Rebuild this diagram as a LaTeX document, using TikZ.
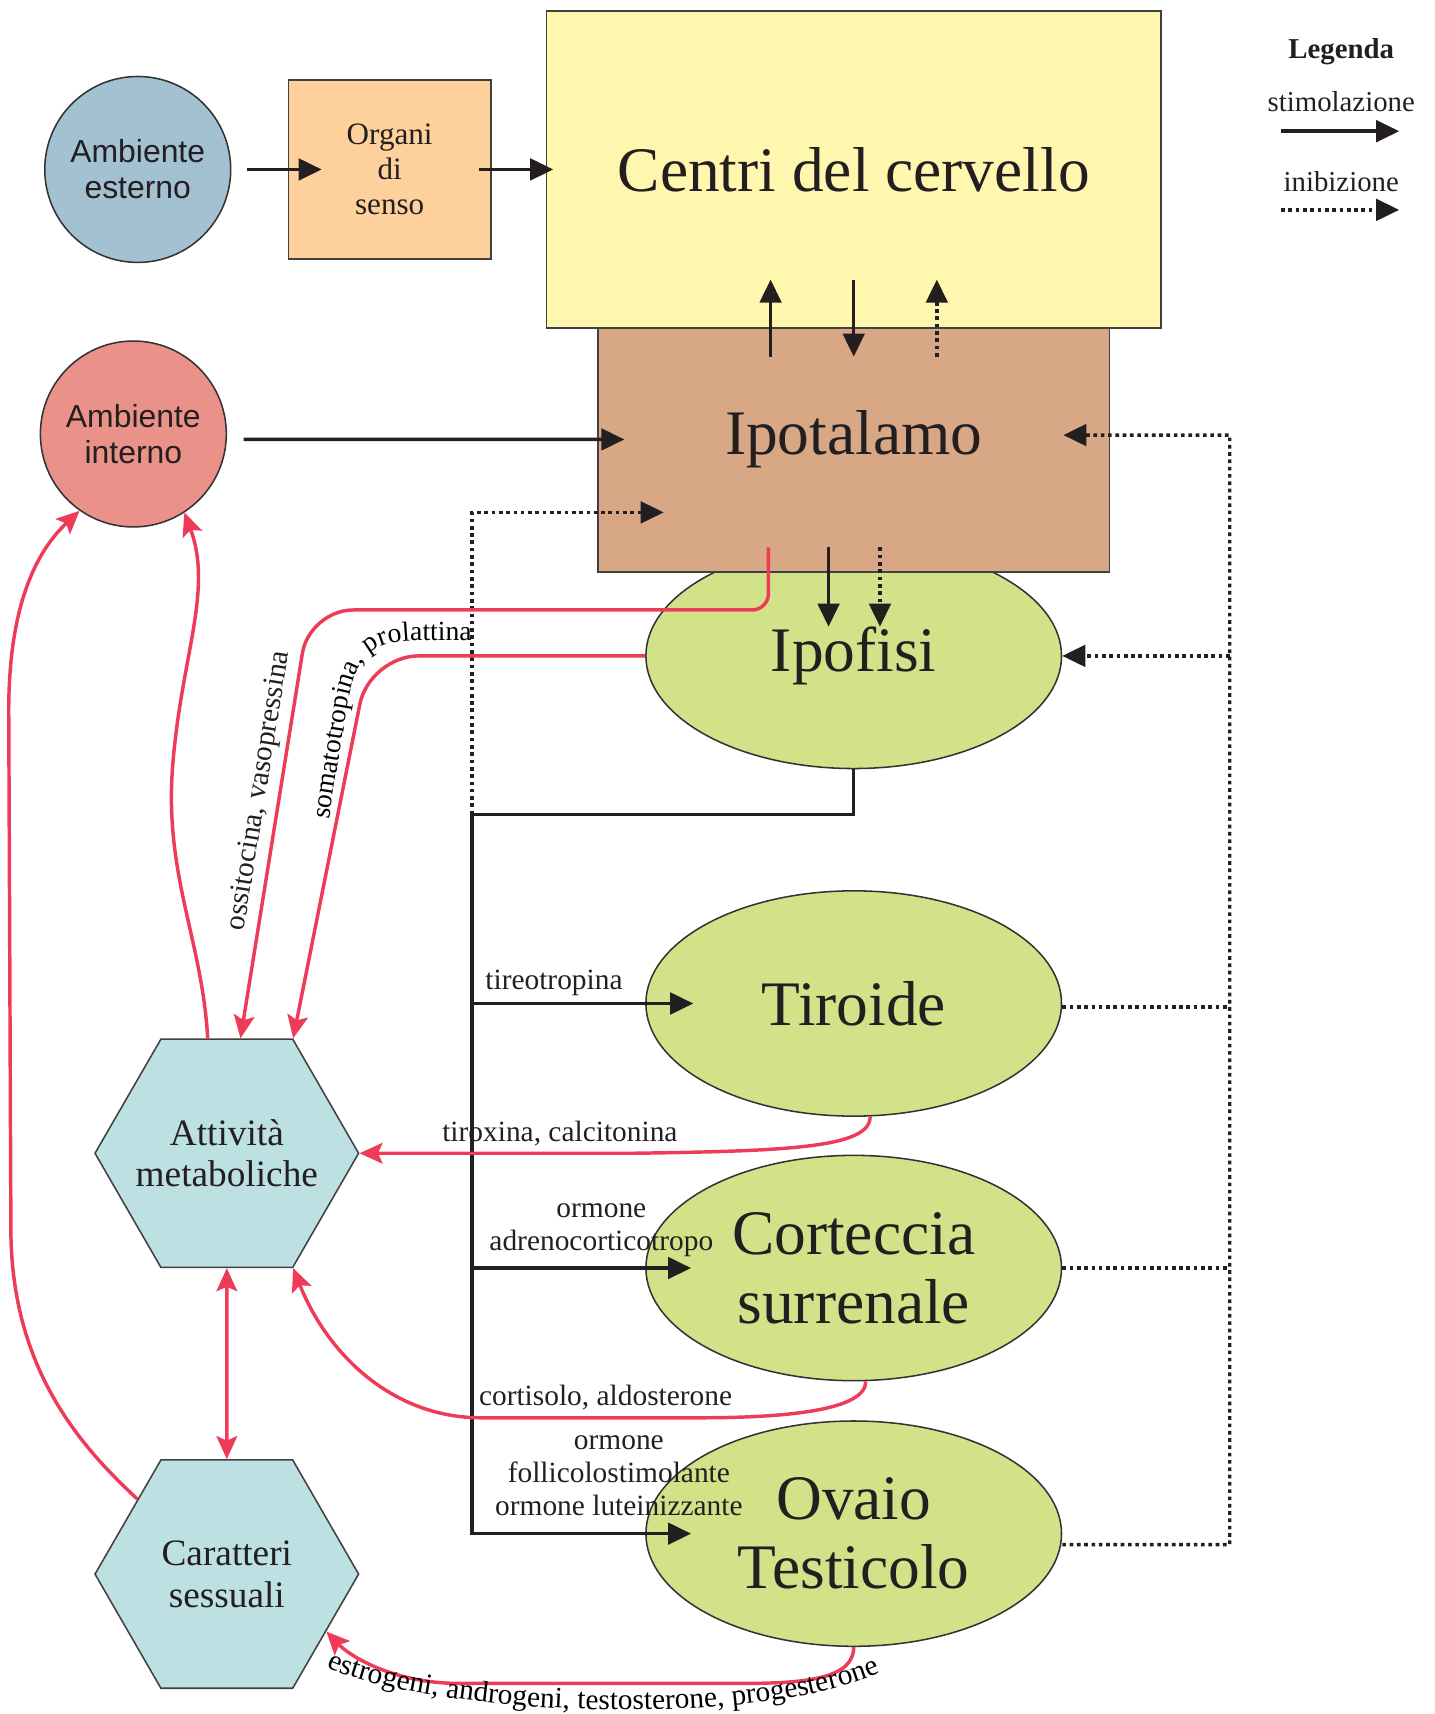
\documentclass[tikz,border=0pt]{standalone}
\usepackage{fontspec}
\setmainfont{Liberation Serif}
\setsansfont{Liberation Sans}
\usepackage{tikz}
\usetikzlibrary{arrows.meta,shapes.geometric,decorations.text}
\definecolor{esternoblue}{RGB}{163,193,209}
\definecolor{organipeach}{RGB}{254,208,156}
\definecolor{centriyellow}{RGB}{255,247,174}
\definecolor{ipotan}{RGB}{216,168,134}
\definecolor{internored}{RGB}{234,145,138}
\definecolor{glandgreen}{RGB}{210,226,136}
\definecolor{hexcyan}{RGB}{189,224,227}
\definecolor{hormred}{RGB}{238,60,88}
\definecolor{inkblack}{RGB}{35,31,32}
\newcommand{\glandfont}{\fontsize{16.5}{18}\selectfont}
\newcommand{\hexfont}{\fontsize{9.7}{10.8}\selectfont}
\newcommand{\organfont}{\fontsize{8.1}{9.1}\selectfont}
\newcommand{\ambfont}{\sffamily\fontsize{8.3}{9.4}\selectfont}
\newcommand{\lblfont}{\fontsize{7.65}{8.5}\selectfont}
\newcommand{\curvefont}{\fontsize{7.2}{8.5}\selectfont}
\newcommand{\legfont}{\fontsize{7.5}{8.5}\selectfont}
\tikzset{
  stimtip/.tip={Triangle[length=6pt,width=5.6pt]},
  hormtip/.tip={Stealth[length=6pt,width=5.4pt,inset=1.2pt]},
  box/.style={draw=black!75,line width=0.4pt,rectangle,inner sep=0pt,text=inkblack},
  gland/.style={draw=black!80,line width=0.4pt,ellipse,fill=glandgreen,minimum width=3.8cm,minimum height=2.06cm,inner sep=1pt,align=center,font=\glandfont,text=inkblack},
  ambient/.style={draw=black!80,line width=0.4pt,circle,minimum size=1.7cm,inner sep=0pt,align=center,font=\ambfont,text=inkblack},
  effect/.style={draw=black!75,line width=0.4pt,regular polygon,regular polygon sides=6,minimum size=2.41cm,inner sep=-2.8pt,fill=hexcyan,align=center,font=\hexfont,text=inkblack},
  stimline/.style={draw=inkblack,line width=0.9pt},
  stim/.style={stimline,-stimtip},
  inhibline/.style={stimline,dash pattern=on 0.95pt off 0.95pt},
  inhib/.style={inhibline,-stimtip},
  horm/.style={draw=hormred,line width=0.9pt,-hormtip},
  lbl/.style={font=\lblfont,inner sep=1.5pt,align=center,text=inkblack},
}

\begin{document}
\begin{tikzpicture}[x=0.01cm,y=-0.01cm]
  \useasboundingbox (0,0) rectangle (1312,1568);
  % Brain, senses and environments
  \node[box,fill=centriyellow,minimum width=5.62cm,minimum height=2.9cm,font=\glandfont] (cen) at (781,155) {Centri del cervello};
  \node[box,fill=organipeach,minimum width=1.85cm,minimum height=1.64cm,font=\organfont,align=center] (org) at (356.5,155) {Organi\\di\\senso};
  \node[ambient,fill=esternoblue] (est) at (126,155) {Ambiente\\esterno};
  \node[ambient,fill=internored] (int) at (122,397) {Ambiente\\interno};
  % Glands (hypophysis goes under the hypothalamus box)
  \node[gland] (ipf) at (781,600) {Ipofisi};
  \node[box,fill=ipotan,minimum width=4.68cm,minimum height=2.23cm,font=\glandfont,text depth=8.8pt] (ipo) at (781,411.5) {Ipotalamo};
  \node[gland] (tir) at (781,918) {Tiroide};
  \node[gland] (cor) at (781,1160) {Corteccia\\surrenale};
  \node[gland] (ovt) at (781,1403) {Ovaio\\Testicolo};
  % Effects
  \node[effect] (met) at (207.5,1055) {Attività\\metaboliche};
  \node[effect] (sex) at (207.5,1440) {Caratteri\\sessuali};
  % Legend
  \node[font=\legfont\bfseries,text=inkblack] (leg) at (1227,47) {Legenda};
  \node[font=\legfont,text=inkblack] (legstim) at (1227,93) {stimolazione};
  \node[font=\legfont,text=inkblack] (leginib) at (1227,166) {inibizione};
  \coordinate (stimA) at (1172,120);
  \coordinate (stimB) at (1280,120);
  \coordinate (inibA) at (1172,192);
  \coordinate (inibB) at (1280,192);
  \draw[stim] (stimA) -- (stimB);
  \draw[inhib] (inibA) -- (inibB);

  % Sensory chain and brain <-> hypothalamus
  \draw[stim] ([xshift=0.14cm]est.east) -- ([xshift=0.31cm]org.west);
  \draw[stim] ([xshift=-0.12cm]org.east) -- ([xshift=0.07cm]cen.west);
  \draw[stim] ([xshift=-0.76cm,yshift=-0.27cm]ipo.north) -- ([xshift=-0.76cm,yshift=0.45cm]cen.south);
  \draw[stim] ([yshift=0.45cm]cen.south) -- ([yshift=-0.27cm]ipo.north);
  \draw[inhib] ([xshift=0.76cm,yshift=-0.27cm]ipo.north) -- ([xshift=0.76cm,yshift=0.45cm]cen.south);
  \draw[stim] ([xshift=0.15cm,yshift=-0.05cm]int.east) -- ([xshift=0.25cm,yshift=0.095cm]ipo.west);
  % Hypothalamus -> hypophysis
  \draw[stim] ([xshift=-0.23cm,yshift=0.23cm]ipo.south) -- ([xshift=-0.23cm,yshift=-0.77cm]ipf.north);
  \draw[inhib] ([xshift=0.24cm,yshift=0.23cm]ipo.south) -- ([xshift=0.24cm,yshift=-0.77cm]ipf.north);

  % Tropic hormones (labels go under the trunk)
  \coordinate (bus) at (432,745);
  \draw[stim] (bus |- tir.west) -- node[lbl,above,pos=0.37] (lbltsh) {tireotropina} ([xshift=0.44cm]tir.west);
  \draw[stim] (bus |- cor.west) -- node[lbl,above=1.1pt,pos=0.59] (lblacth) {ormone\\adrenocorticotropo} ([xshift=0.42cm]cor.west);
  \draw[stim] (ipf.south) |- (bus) -- (bus |- ovt.west) -- node[lbl,above=2.8pt,pos=0.67] (lblgonad) {ormone\\follicolostimolante\\ormone luteinizzante} ([xshift=0.42cm]ovt.west);

  % Feedback (inhibition)
  \draw[inhib] (bus) |- ([xshift=0.61cm,yshift=0.55cm]ipo.south west);
  \coordinate (fb) at (1125,398);
  \coordinate (tirout) at ([yshift=-0.03cm]tir.east);
  \draw[inhib] ([yshift=-0.1cm]ovt.east) -| (fb) -- ([xshift=-0.43cm,yshift=0.135cm]ipo.east);
  \draw[inhib] (fb |- ipf.east) -- (ipf.east);
  \draw[inhibline] (tirout) -- (fb |- tirout);
  \draw[inhibline] (cor.east) -- (fb |- cor.east);

  % Hormones to the effects
  \draw[horm] ([xshift=-0.78cm,yshift=0.23cm]ipo.south) [rounded corners=1.5mm] -- (703,558) [rounded corners=4mm] -- (283,558) -- node[lbl,sloped,above,pos=0.43] (lbloss) {ossitocina, vasopressina} ([xshift=0.125cm]met.north);
  \draw[horm] (ipf.west) [rounded corners=4.5mm] -- (338,600) -- (met.60);
  \path[decorate,decoration={text along path,text align=left,text={|\curvefont|somatotropina, prolattina}}]
    (301,750) -- (318,645) .. controls (326,596) and (345,587) .. (378,586) -- (455,586);
  \draw[horm] ([xshift=0.15cm]tir.south) .. controls (796,1050) and (720,1053) .. (580,1055) -- node[lbl,above,pos=0.27] (lbltir) {tiroxina, calcitonina} (met.east);
  \draw[horm] ([xshift=0.11cm]cor.south) .. controls (792,1290) and (720,1297) .. (640,1297) -- node[lbl,above,pos=0.43] (lblcort) {cortisolo, aldosterone} (440,1297) .. controls (360,1297) and (300,1240) .. (met.300);
  \draw[horm] (ovt.south) .. controls (781,1535) and (740,1540) .. (680,1540) -- (420,1540) .. controls (360,1540) and (320,1515) .. (sex.-30);
  \path[decorate,decoration={text along path,text align=left,text={|\lblfont|estrogeni, androgeni, testosterone, progesterone}}]
    (299,1525) .. controls (400,1570) and (690,1582) .. (806,1530);
  \draw[horm,hormtip-hormtip] (met.south) -- (sex.north);
  % Back to the internal environment
  \draw[horm] ([xshift=-0.175cm]met.north) .. controls (185,860) and (150,800) .. (158,700) .. controls (166,600) and (195,540) .. (int.-57);
  \draw[horm] (sex.140) .. controls (70,1320) and (12,1250) .. (10,1130) -- (8,650) .. controls (8,545) and (38,500) .. (int.-125);
\end{tikzpicture}
\end{document}
